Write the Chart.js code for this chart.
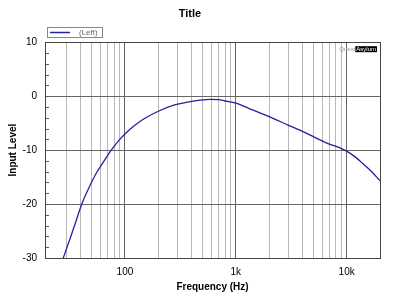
<!DOCTYPE html>
<html>
<head>
<meta charset="utf-8">
<script src="https://cdn.jsdelivr.net/npm/chart.js@4/dist/chart.umd.min.js"></script>
<style>
  html, body { margin: 0; padding: 0; background: #fff; }
  #wrap { width: 400px; height: 300px; }
</style>
</head>
<body>
<div id="wrap"><canvas id="freqChart" width="400" height="300"></canvas></div>
<script>
// frequency response (Hz, dB)
const freqs = [27, 31.6, 35.6, 40.8, 46.3, 55.1, 65.3, 75.2, 89, 100, 122, 150, 200, 280, 400, 500, 583, 700, 800, 1000, 1320, 2000, 3000, 3780, 5000, 7000, 8500, 10000, 12000, 14000, 17000, 20000];
const levels = [-30.7, -26.7, -23.6, -20, -17.4, -14.3, -11.9, -10, -8.1, -7.0, -5.45, -4.15, -2.8, -1.63, -0.95, -0.7, -0.6, -0.65, -0.9, -1.3, -2.3, -3.8, -5.4, -6.3, -7.5, -8.9, -9.5, -10.2, -11.3, -12.5, -14.1, -15.7];
const xGridTicks = [30, 40, 50, 60, 70, 80, 90, 100, 200, 300, 400, 500, 600, 700, 800, 900,
  1000, 2000, 3000, 4000, 5000, 6000, 7000, 8000, 9000, 10000, 20000];
const xTickLabels = { 100: '100', 1000: '1k', 10000: '10k' };
const yMinorStep = 2;

// inward minor ticks, frame, legend box and watermark
const decorations = {
  id: 'decorations',
  afterDraw(chart) {
    const ctx = chart.ctx;
    const a = chart.chartArea;
    const y = chart.scales.y;
    ctx.save();
    ctx.strokeStyle = '#555';
    ctx.lineWidth = 1;
    ctx.beginPath();
    for (let v = y.min; v <= y.max; v += yMinorStep) {
      const py = Math.round(y.getPixelForValue(v)) + 0.5;
      ctx.moveTo(a.left, py);
      ctx.lineTo(a.left + 4, py);
    }
    ctx.stroke();
    ctx.strokeStyle = '#444';
    ctx.strokeRect(Math.round(a.left) + 0.5, Math.round(a.top) + 0.5,
      Math.round(a.right - a.left), Math.round(a.bottom - a.top));

    // legend
    ctx.fillStyle = '#fff';
    ctx.fillRect(47.5, 27.5, 55, 10);
    ctx.strokeStyle = '#888';
    ctx.strokeRect(47.5, 27.5, 55, 10);
    ctx.strokeStyle = chart.data.datasets[0].borderColor;
    ctx.lineWidth = 1.5;
    ctx.beginPath();
    ctx.moveTo(50, 32.5);
    ctx.lineTo(70, 32.5);
    ctx.stroke();
    ctx.fillStyle = '#666';
    ctx.font = '8px "Liberation Sans", Arial, sans-serif';
    ctx.textBaseline = 'middle';
    ctx.fillText(chart.data.datasets[0].label, 79, 33);

    // watermark
    ctx.font = '6px "Liberation Sans", Arial, sans-serif';
    const wA = ctx.measureText('Asylum').width;
    const wQ = ctx.measureText('Quest').width;
    const xr = a.right - 3;
    ctx.fillStyle = '#000';
    ctx.fillRect(xr - wA - 2, a.top + 4, wA + 2, 6);
    ctx.fillStyle = '#fff';
    ctx.fillText('Asylum', xr - wA - 1, a.top + 7);
    ctx.fillStyle = '#999';
    ctx.fillText('Quest', xr - wA - 2 - wQ, a.top + 7);
    ctx.restore();
  }
};

const ctx = document.getElementById('freqChart').getContext('2d');
new Chart(ctx, {
  type: 'line',
  data: {
    datasets: [
      {
        label: '(Left)',
        data: freqs.map((f, i) => ({ x: f, y: levels[i] })),
        borderColor: '#22229e',
        borderWidth: 1.3,
        pointRadius: 0,
        cubicInterpolationMode: 'monotone',
        fill: false
      }
    ]
  },
  options: {
    responsive: false,
    animation: false,
    layout: { padding: { left: 0, right: 20, top: 0, bottom: 0 } },
    scales: {
      x: {
        type: 'logarithmic',
        min: 19,
        max: 20000,
        afterBuildTicks: function (scale) {
          scale.ticks = xGridTicks.map(v => ({ value: v, major: v in xTickLabels }));
        },
        afterFit: function (scale) { scale.height = 42; },
        ticks: {
          autoSkip: false,
          maxRotation: 0,
          padding: 8,
          color: '#000',
          font: { family: '"Liberation Sans", Arial, sans-serif', size: 10 },
          callback: function (value) { return xTickLabels[value] || ''; }
        },
        grid: {
          drawTicks: false,
          color: function (c) {
            return (c.tick && xTickLabels[c.tick.value]) ? '#666' : '#b8b8b8';
          }
        },
        border: { display: false },
        title: {
          display: true,
          text: 'Frequency (Hz)',
          color: '#000',
          font: { family: '"Liberation Sans", Arial, sans-serif', size: 10, weight: 'bold' },
          padding: { top: 0, bottom: 7 }
        }
      },
      y: {
        min: -30,
        max: 10,
        afterFit: function (scale) { scale.width = 45; },
        ticks: {
          stepSize: 10,
          padding: 8,
          color: '#000',
          font: { family: '"Liberation Sans", Arial, sans-serif', size: 10 }
        },
        grid: { drawTicks: false, color: '#666' },
        border: { display: false },
        title: {
          display: true,
          text: 'Input Level',
          color: '#000',
          font: { family: '"Liberation Sans", Arial, sans-serif', size: 10, weight: 'bold' },
          padding: { top: 7, bottom: 0 }
        }
      }
    },
    plugins: {
      legend: { display: false },
      tooltip: { enabled: false },
      title: {
        display: true,
        text: 'Title',
        color: '#000',
        font: { family: '"Liberation Sans", Arial, sans-serif', size: 11, weight: 'bold' },
        padding: { top: 7, bottom: 22 }
      }
    }
  },
  plugins: [decorations]
});
</script>
</body>
</html>
